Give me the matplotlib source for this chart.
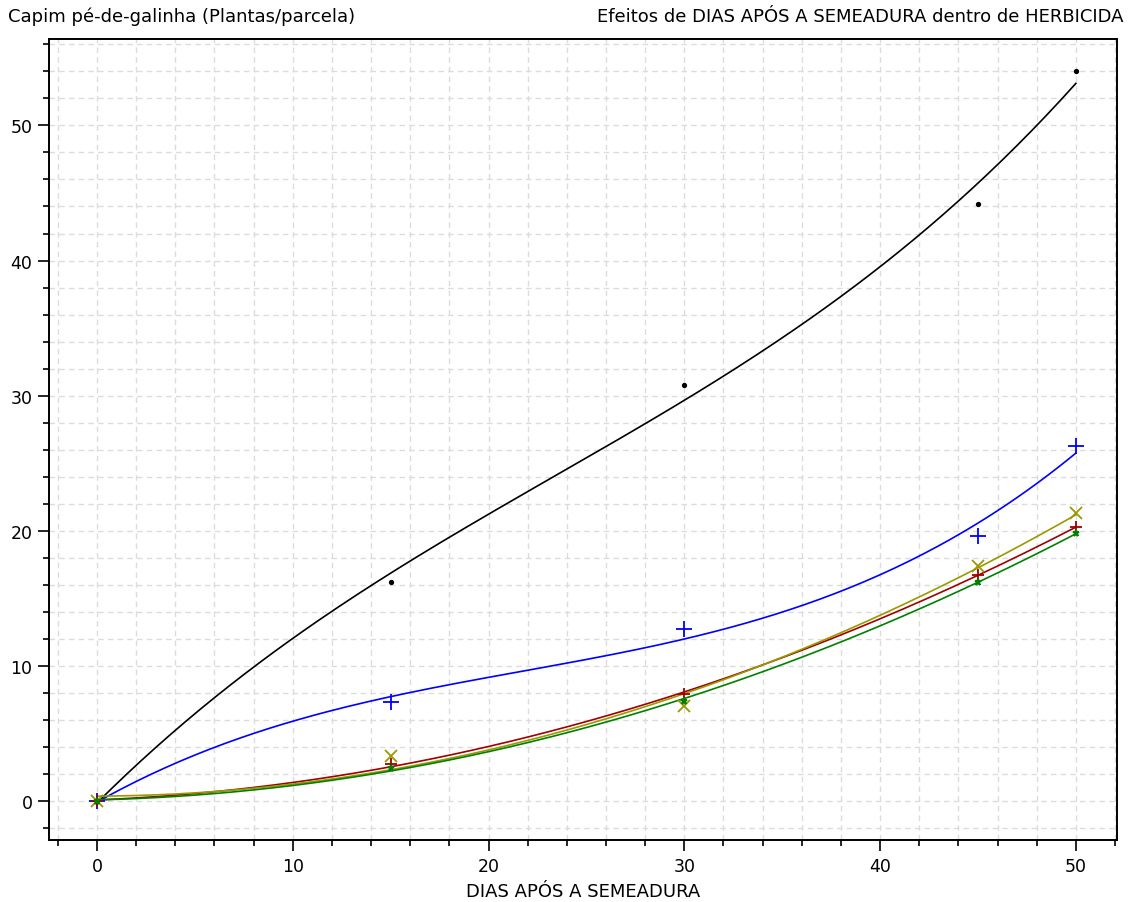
import numpy as np
import matplotlib
matplotlib.use("Agg")
import matplotlib.pyplot as plt
from matplotlib.ticker import MultipleLocator

# dias apos a semeadura
dias = [0, 15, 30, 45, 50]

# medias de plantas/parcela por herbicida
herb1 = [0.0, 16.2, 30.8, 44.2, 54.0]
herb2 = [0.0, 7.3, 12.7, 19.6, 26.3]
herb3 = [0.0, 2.7, 7.9, 16.7, 20.3]
herb4 = [0.0, 3.3, 7.0, 17.4, 21.3]
herb5 = [0.0, 2.4, 7.4, 16.2, 19.8]

# grau da regressao usada em cada curva
graus = [3, 3, 2, 2, 2]

cores = ["black", "#0000ff", "#a00000", "#999900", "#008000"]
marcas = [".", "+", "+", "x", "*"]
tam = [5, 11, 8, 8, 5]

plt.rcParams['font.family'] = ['DejaVu Sans']
fig = plt.figure(figsize=(11.30, 9.03), dpi=100)
ax = fig.add_axes([0.0434, 0.0687, 0.9451, 0.887])

xx = np.linspace(0, 50, 200)
series = [herb1, herb2, herb3, herb4, herb5]
for y, g, c, m, s in zip(series, graus, cores, marcas, tam):
    coef = np.polyfit(dias, y, g)
    ax.plot(xx, np.polyval(coef, xx), color=c, lw=1.2, zorder=3)
    ax.plot(dias, y, ls="none", marker=m, color=c, ms=s, mew=1.3, zorder=4)

ax.set_xlim(-2.45, 52.1)
ax.set_ylim(-2.9, 56.4)
ax.xaxis.set_major_locator(MultipleLocator(10))
ax.xaxis.set_minor_locator(MultipleLocator(2))
ax.yaxis.set_major_locator(MultipleLocator(10))
ax.yaxis.set_minor_locator(MultipleLocator(2))
ax.grid(which="both", color="#dcdcdc", ls=(0, (4, 3)), lw=1.0, zorder=0)
ax.tick_params(which="major", length=8, width=1.2, labelsize=12.5, pad=4)
ax.tick_params(which="minor", length=4.5, width=1.2)
for sp in ax.spines.values():
    sp.set_linewidth(1.4)

ax.set_xlabel("DIAS APÓS A SEMEADURA", fontsize=13, labelpad=5)
fig.text(0.007, 0.981, "Capim pé-de-galinha (Plantas/parcela)", fontsize=13, va="center", ha="left")
fig.text(0.994, 0.981, "Efeitos de DIAS APÓS A SEMEADURA dentro de HERBICIDA", fontsize=13,
         va="center", ha="right")

fig.savefig("out.png", dpi=100)
